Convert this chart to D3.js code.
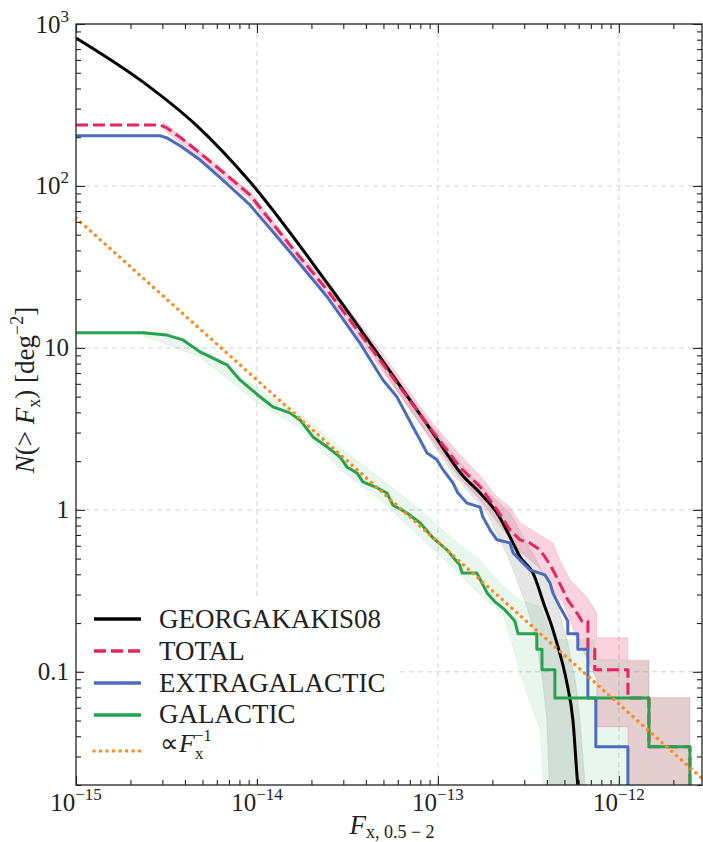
<!DOCTYPE html>
<html>
<head>
<meta charset="utf-8">
<script src="https://cdn.jsdelivr.net/npm/d3@7/dist/d3.min.js"></script>
<style>
  body { margin: 0; background: #fff; }
  svg { display: block; }
</style>
</head>
<body>
<svg id="chart" width="703" height="842"></svg>
<script>
// axis ranges
const xDomain = [1e-15, 2.88e-12]
const yDomain = [0.02, 1000]

// tick labels
const fluxTicks = [1e-15, 1e-14, 1e-13, 1e-12]
const fluxExponents = ['−15', '−14', '−13', '−12']
const countTicks = [0.1, 1, 10, 100, 1000]
const countLabels = [['0.1', ''], ['1', ''], ['10', ''], ['10', '2'], ['10', '3']]

// [flux, N(>F)]
const georgakakis = [
  [1.00e-15, 820], [2.34e-15, 439], [4.60e-15, 238], [9.15e-15, 106], [2.44e-14, 25.2],
  [7.00e-14, 4.78], [9.38e-14, 2.99], [1.37e-13, 1.63], [1.71e-13, 1.27], [2.12e-13, 0.957],
  [2.60e-13, 0.625], [2.84e-13, 0.513], [3.35e-13, 0.408], [3.90e-13, 0.252], [4.32e-13, 0.182],
  [4.54e-13, 0.151], [5.16e-13, 0.0855], [5.57e-13, 0.0506], [5.93e-13, 0.0200], [6.10e-13, 0.015]
]

const total = [
  [1.00e-15, 238], [2.91e-15, 238], [3.18e-15, 228], [3.76e-15, 200], [4.84e-15, 160],
  [6.65e-15, 119], [9.15e-15, 88], [1.52e-14, 43.2], [2.44e-14, 22.8], [4.78e-14, 8.43],
  [7.28e-14, 4.45], [9.03e-14, 3.21], [9.87e-14, 2.82], [1.32e-13, 1.84], [1.71e-13, 1.39],
  [2.12e-13, 1.00], [2.50e-13, 0.753], [2.84e-13, 0.653], [3.22e-13, 0.625], [3.66e-13, 0.566],
  [3.90e-13, 0.513], [4.32e-13, 0.426], [4.60e-13, 0.370], [5.22e-13, 0.278], [5.86e-13, 0.231],
  [6.25e-13, 0.206], [6.74e-13, 0.206], [6.74e-13, 0.138], [7.36e-13, 0.138], [7.36e-13, 0.103],
  [1.122e-12, 0.103], [1.122e-12, 0.0688], [1.466e-12, 0.0688], [1.466e-12, 0.0344],
  [2.47e-12, 0.0344], [2.47e-12, 0.015]
]

const extragalactic = [
  [1.00e-15, 204], [2.91e-15, 204], [3.18e-15, 198], [3.76e-15, 177], [4.84e-15, 145],
  [6.65e-15, 106], [9.15e-15, 76.3], [1.52e-14, 39.2], [2.44e-14, 20.7], [3.71e-14, 10.7],
  [4.97e-14, 6.34], [5.93e-14, 4.99], [7.28e-14, 3.25], [7.96e-14, 2.71], [8.69e-14, 2.25],
  [9.87e-14, 2.04], [1.066e-13, 1.77], [1.21e-13, 1.47], [1.29e-13, 1.27], [1.45e-13, 1.10],
  [1.71e-13, 1.04], [1.77e-13, 0.906], [1.94e-13, 0.753], [2.12e-13, 0.653], [2.50e-13, 0.625],
  [2.60e-13, 0.543], [2.84e-13, 0.491], [3.22e-13, 0.426], [3.90e-13, 0.397], [4.16e-13, 0.354],
  [4.32e-13, 0.307], [4.72e-13, 0.252], [5.22e-13, 0.206], [5.22e-13, 0.172], [5.93e-13, 0.172],
  [5.93e-13, 0.138], [6.74e-13, 0.138], [6.74e-13, 0.0688], [7.46e-13, 0.0688], [7.46e-13, 0.0344],
  [1.122e-12, 0.0344], [1.122e-12, 0.015]
]

const galactic = [
  [1.00e-15, 12.4], [2.34e-15, 12.4], [3.18e-15, 12.0], [3.90e-15, 11.2], [4.84e-15, 9.45],
  [6.83e-15, 7.86], [8.05e-15, 6.34], [1.04e-14, 4.99], [1.225e-14, 4.32], [1.52e-14, 3.97],
  [1.73e-14, 3.59], [2.04e-14, 2.82], [2.44e-14, 2.45], [2.88e-14, 2.12], [3.14e-14, 1.84],
  [3.57e-14, 1.69], [3.85e-14, 1.49], [4.60e-14, 1.37], [5.23e-14, 1.27], [5.64e-14, 1.07],
  [6.74e-14, 0.957], [7.96e-14, 0.832], [9.38e-14, 0.672], [1.122e-13, 0.566], [1.32e-13, 0.457],
  [1.36e-13, 0.408], [1.64e-13, 0.408], [1.87e-13, 0.307], [2.07e-13, 0.270], [2.34e-13, 0.242],
  [2.66e-13, 0.206], [2.77e-13, 0.172], [3.52e-13, 0.172], [3.52e-13, 0.138], [3.76e-13, 0.138],
  [3.76e-13, 0.103], [4.43e-13, 0.103], [4.43e-13, 0.0688], [1.466e-12, 0.0688], [1.466e-12, 0.0344],
  [2.47e-12, 0.0344], [2.47e-12, 0.015]
]

const powerLaw = [[1e-15, 63.4], [3e-12, 0.0211]]

// uncertainty bands: upper and lower edges
const georgakakisUpper = [
  [2.44e-14, 25.9], [7.00e-14, 4.99], [1.026e-13, 2.82], [1.54e-13, 1.60], [2.50e-13, 0.957],
  [3.44e-13, 0.513], [4.60e-13, 0.252], [5.22e-13, 0.151], [5.78e-13, 0.0855], [6.09e-13, 0.0506],
  [6.65e-13, 0.015]
]
const georgakakisLower = [
  [2.44e-14, 24.2], [6.57e-14, 4.64], [8.69e-14, 2.90], [1.24e-13, 1.60], [1.87e-13, 0.957],
  [2.44e-13, 0.513], [3.10e-13, 0.252], [3.52e-13, 0.151], [3.80e-13, 0.0855], [4.00e-13, 0.0506],
  [4.16e-13, 0.015]
]
const totalUpper = [
  [3.03e-15, 248], [9.15e-15, 91.8], [1.73e-14, 37.5], [2.53e-14, 24.5], [4.78e-14, 9.72],
  [9.03e-14, 3.59], [1.32e-13, 2.19], [1.71e-13, 1.62], [2.12e-13, 1.20], [2.50e-13, 1.04],
  [2.84e-13, 0.832], [4.32e-13, 0.625], [4.72e-13, 0.491], [5.36e-13, 0.370], [6.65e-13, 0.290],
  [7.55e-13, 0.231], [7.55e-13, 0.162], [1.122e-12, 0.162], [1.122e-12, 0.117], [1.466e-12, 0.117],
  [1.466e-12, 0.0692], [2.47e-12, 0.0692], [2.47e-12, 0.015]
]
const totalLower = [
  [3.03e-15, 225], [9.15e-15, 83.2], [1.73e-14, 32.5], [2.53e-14, 20.7], [4.78e-14, 7.53],
  [9.03e-14, 2.82], [1.32e-13, 1.58], [1.71e-13, 1.15], [2.12e-13, 0.843], [2.84e-13, 0.551],
  [3.66e-13, 0.438], [4.32e-13, 0.321], [4.91e-13, 0.267], [5.57e-13, 0.190], [5.86e-13, 0.158],
  [6.74e-13, 0.119], [7.55e-13, 0.0893], [7.55e-13, 0.0457], [1.122e-12, 0.0457], [1.122e-12, 0.015]
]
const galacticUpper = [
  [2.34e-15, 12.9], [4.84e-15, 10.1], [1.04e-14, 5.50], [1.73e-14, 3.97], [2.88e-14, 2.42],
  [4.78e-14, 1.58], [7.96e-14, 1.00], [1.32e-13, 0.608], [1.71e-13, 0.491], [2.20e-13, 0.354],
  [2.84e-13, 0.278], [3.66e-13, 0.252], [4.43e-13, 0.158], [7.36e-13, 0.158], [7.36e-13, 0.119],
  [1.466e-12, 0.119], [1.466e-12, 0.0692], [2.47e-12, 0.0692], [2.47e-12, 0.015]
]
const galacticLower = [
  [2.34e-15, 11.9], [4.84e-15, 8.80], [1.04e-14, 4.45], [1.73e-14, 3.21], [2.88e-14, 1.77],
  [4.78e-14, 1.15], [7.96e-14, 0.681], [1.165e-13, 0.457], [1.71e-13, 0.299], [2.29e-13, 0.225],
  [2.60e-13, 0.143], [2.84e-13, 0.0986], [3.66e-13, 0.0439], [3.90e-13, 0.015]
]

const colors = {
  black: '#000000',
  total: '#e8245e',
  extra: '#4a6cbf',
  gal: '#27a24d',
  law: '#ff8a1e'
}
const FONT = "'Liberation Serif', 'Times New Roman', serif"

const svg = d3.select('#chart')
const plot = { left: 76, right: 702, top: 24, bottom: 785 }

const x = d3.scaleLog().domain(xDomain).range([plot.left, plot.right])
const y = d3.scaleLog().domain(yDomain).range([plot.bottom, plot.top])

svg.append('rect').attr('width', 703).attr('height', 842).attr('fill', '#fff')

svg.append('defs').append('clipPath').attr('id', 'plot-clip')
  .append('rect')
  .attr('x', plot.left).attr('y', plot.top)
  .attr('width', plot.right - plot.left).attr('height', plot.bottom - plot.top)

// grid
const grid = svg.append('g').attr('class', 'grid')
grid.selectAll('line.gx')
  .data(fluxTicks.filter(d => d > xDomain[0]))
  .enter().append('line')
  .attr('x1', d => x(d)).attr('x2', d => x(d))
  .attr('y1', plot.top).attr('y2', plot.bottom)
grid.selectAll('line.gy')
  .data(countTicks.filter(d => d < yDomain[1]))
  .enter().append('line')
  .attr('x1', plot.left).attr('x2', plot.right)
  .attr('y1', d => y(d)).attr('y2', d => y(d))
grid.selectAll('line')
  .attr('stroke', '#d3d3d3')
  .attr('stroke-width', 1)
  .attr('stroke-dasharray', '5,4')

const line = d3.line().x(d => x(d[0])).y(d => y(d[1]))
const band = (upper, lower) => line(upper.concat(lower.slice().reverse())) + 'Z'

const data = svg.append('g').attr('clip-path', 'url(#plot-clip)')

// bands
const bands = [
  { upper: georgakakisUpper, lower: georgakakisLower, color: '#8c8c8c', alpha: 0.22 },
  { upper: totalUpper, lower: totalLower, color: colors.total, alpha: 0.2 },
  { upper: galacticUpper, lower: galacticLower, color: colors.gal, alpha: 0.1 }
]
data.selectAll('path.band')
  .data(bands)
  .enter().append('path')
  .attr('class', 'band')
  .attr('d', d => band(d.upper, d.lower))
  .attr('fill', d => d.color)
  .attr('fill-opacity', d => d.alpha)
  .attr('stroke', d => d.color)
  .attr('stroke-opacity', d => d.alpha * 0.8)
  .attr('stroke-width', 1)

// curves
const series = [
  { values: georgakakis, color: colors.black, dash: null, curve: d3.curveMonotoneX },
  { values: total, color: colors.total, dash: '12,5', curve: d3.curveLinear },
  { values: extragalactic, color: colors.extra, dash: null, curve: d3.curveLinear },
  { values: galactic, color: colors.gal, dash: null, curve: d3.curveLinear }
]
data.selectAll('path.series')
  .data(series)
  .enter().append('path')
  .attr('class', 'series')
  .attr('d', d => line.curve(d.curve)(d.values))
  .attr('fill', 'none')
  .attr('stroke', d => d.color)
  .attr('stroke-width', 3)
  .attr('stroke-linejoin', 'round')
  .attr('stroke-dasharray', d => d.dash)

line.curve(d3.curveLinear)
data.append('path')
  .attr('d', line(powerLaw))
  .attr('fill', 'none')
  .attr('stroke', colors.law)
  .attr('stroke-width', 3.4)
  .attr('stroke-linecap', 'round')
  .attr('stroke-dasharray', '0.1,6.4')

// axes: inward ticks on all four sides
const majorX = fluxTicks
const minorX = x.ticks().filter(d => !majorX.some(m => Math.abs(d / m - 1) < 1e-6))
const majorY = countTicks
const minorY = y.ticks().filter(d => !majorY.some(m => Math.abs(d / m - 1) < 1e-6))

const addAxis = (axisFn, scale, transform, values, size) => {
  const g = svg.append('g')
    .attr('transform', transform)
    .call(axisFn(scale).tickValues(values).tickSize(size).tickFormat(''))
  g.select('.domain').remove()
  g.selectAll('line').attr('stroke', '#222').attr('stroke-width', 1.1)
}
addAxis(d3.axisBottom, x, `translate(0,${plot.bottom})`, majorX, -9)
addAxis(d3.axisBottom, x, `translate(0,${plot.bottom})`, minorX, -5)
addAxis(d3.axisTop, x, `translate(0,${plot.top})`, majorX, -9)
addAxis(d3.axisTop, x, `translate(0,${plot.top})`, minorX, -5)
addAxis(d3.axisLeft, y, `translate(${plot.left},0)`, majorY, -9)
addAxis(d3.axisLeft, y, `translate(${plot.left},0)`, minorY, -5)
addAxis(d3.axisRight, y, `translate(${plot.right},0)`, majorY, -9)
addAxis(d3.axisRight, y, `translate(${plot.right},0)`, minorY, -5)

svg.append('rect')
  .attr('x', plot.left).attr('y', plot.top)
  .attr('width', plot.right - plot.left).attr('height', plot.bottom - plot.top)
  .attr('fill', 'none')
  .attr('stroke', '#222')
  .attr('stroke-width', 1.3)

// tick labels
const xLabels = svg.append('g')
  .selectAll('text')
  .data(fluxTicks)
  .enter().append('text')
  .attr('x', d => x(d))
  .attr('y', 811)
  .attr('text-anchor', 'middle')
  .attr('font-size', 25)
xLabels.append('tspan').text('10')
xLabels.append('tspan')
  .attr('dy', -11)
  .attr('font-size', 17)
  .text((d, i) => fluxExponents[i])

const yLabels = svg.append('g')
  .selectAll('text')
  .data(countTicks)
  .enter().append('text')
  .attr('x', 69)
  .attr('y', d => y(d) + 8.5)
  .attr('text-anchor', 'end')
  .attr('font-size', 25)
yLabels.append('tspan').text((d, i) => countLabels[i][0])
yLabels.filter((d, i) => countLabels[i][1] !== '')
  .append('tspan')
  .attr('dy', -11)
  .attr('font-size', 17)
  .text(d => countLabels[countTicks.indexOf(d)][1])

// axis titles
const xTitle = svg.append('text')
  .attr('x', 392)
  .attr('y', 834)
  .attr('text-anchor', 'middle')
  .attr('font-size', 27)
xTitle.append('tspan').attr('font-style', 'italic').text('F')
xTitle.append('tspan').attr('font-size', 18).attr('dy', 4).text('x, 0.5 − 2')

const yTitle = svg.append('text')
  .attr('transform', 'translate(34,390) rotate(-90)')
  .attr('text-anchor', 'middle')
  .attr('font-size', 27)
yTitle.append('tspan').attr('font-style', 'italic').text('N')
yTitle.append('tspan').text('(> ')
yTitle.append('tspan').attr('font-style', 'italic').text('F')
yTitle.append('tspan').attr('font-size', 18).attr('dy', 6).text('x')
yTitle.append('tspan').attr('dy', -6).text(') [deg')
yTitle.append('tspan').attr('font-size', 18).attr('dy', -11).text('−2')
yTitle.append('tspan').attr('dy', 11).text(']')

// legend
const legendItems = [
  { label: 'GEORGAKAKIS08', color: colors.black, dash: null, width: 3.5, y: 619, ty: 8.5 },
  { label: 'TOTAL', color: colors.total, dash: '12,5', width: 3.5, y: 651, ty: 8.5 },
  { label: 'EXTRAGALACTIC', color: colors.extra, dash: null, width: 3.5, y: 683, ty: 8.5 },
  { label: 'GALACTIC', color: colors.gal, dash: null, width: 3.5, y: 715, ty: 7.5 },
  { label: null, color: colors.law, dash: '0.1,6.4', width: 3.4, y: 751, ty: 1 }
]
const legend = svg.append('g').attr('class', 'legend')
legend.append('rect')
  .attr('x', 84).attr('y', 599)
  .attr('width', 314).attr('height', 180)
  .attr('rx', 4)
  .attr('fill', '#fff')
  .attr('fill-opacity', 0.85)

const rows = legend.selectAll('g.row')
  .data(legendItems)
  .enter().append('g')
  .attr('class', 'row')
  .attr('transform', d => `translate(0,${d.y})`)
rows.append('line')
  .attr('x1', 94).attr('x2', 141)
  .attr('stroke', d => d.color)
  .attr('stroke-width', d => d.width)
  .attr('stroke-linecap', d => d.label ? 'butt' : 'round')
  .attr('stroke-dasharray', d => d.dash)
rows.filter(d => d.label)
  .append('text')
  .attr('x', 159)
  .attr('y', d => d.ty)
  .attr('font-size', 27)
  .text(d => d.label)

const lawLabel = rows.filter(d => !d.label)
  .append('text')
  .attr('x', 160)
  .attr('y', d => d.ty)
  .attr('font-size', 26)
lawLabel.append('tspan').text('∝')
lawLabel.append('tspan').attr('font-style', 'italic').text('F')
lawLabel.append('tspan').attr('font-size', 17).attr('dy', 7).text('x')
lawLabel.append('tspan').attr('font-size', 16).attr('dx', -9).attr('dy', -18).text('−1')

svg.selectAll('text')
  .style('font-family', FONT)
  .attr('fill', '#222')
</script>
</body>
</html>
